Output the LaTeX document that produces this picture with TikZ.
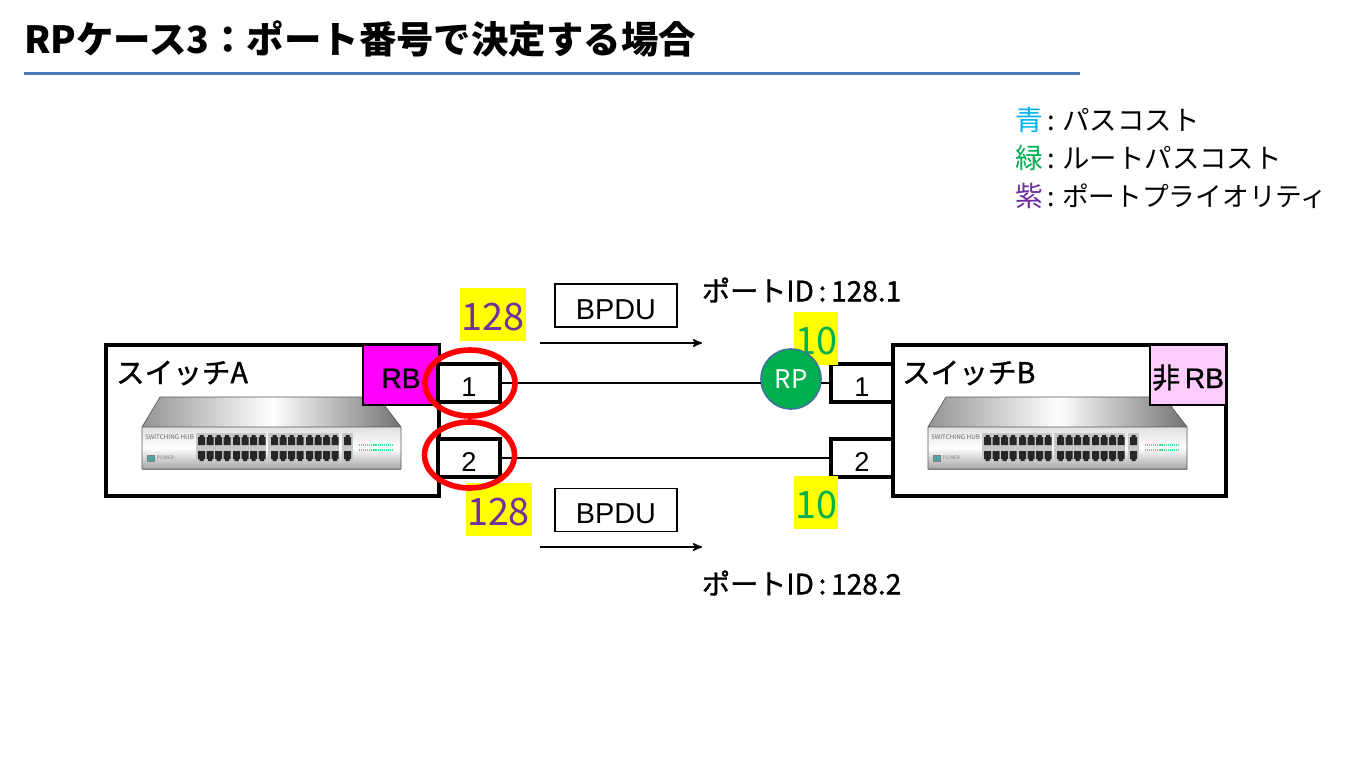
\documentclass[tikz,border=0pt]{standalone}
\usepackage{fontspec}
\setmainfont{Noto Sans CJK JP}
\newfontfamily\medfont[FakeBold=1.2]{Noto Sans CJK JP}
\newfontfamily\arialfont{Liberation Sans}
\newfontfamily\arialmed[FakeBold=1.2]{Liberation Sans}
\usetikzlibrary{arrows}
\usetikzlibrary{positioning}
\usetikzlibrary{shapes.geometric}
\newlength\px
\setlength\px{0.02cm}
\definecolor{rulec}{HTML}{4A7EBB}
\definecolor{costblue}{HTML}{00B0F0}
\definecolor{costgreen}{HTML}{00B050}
\definecolor{prio}{HTML}{7030A0}
\definecolor{rootpink}{HTML}{FF00FF}
\definecolor{nonrb}{HTML}{FFCCFF}
\definecolor{rpedge}{HTML}{41719C}
\definecolor{hiyellow}{HTML}{FFFF00}
\definecolor{ringred}{HTML}{FF0000}
\definecolor{ledgreen}{HTML}{40E090}
\tikzset{
  switchbox/.style={draw, line width=1.75pt, minimum width=333\px, minimum height=151\px},
  portbox/.style={draw, fill=white, line width=1.75pt, minimum width=62\px, text height=32\px, text depth=6\px, font=\arialfont\fontsize{15.5}{15.5}\selectfont},
  rootbox/.style={draw, line width=1.2pt, minimum width=76\px, text height=43\px, text depth=17\px, font=\arialmed\fontsize{16}{16}\selectfont},
  msgbox/.style={draw, line width=0.6pt, minimum width=122\px, text height=35\px, text depth=8\px, font=\arialfont\fontsize{16.4}{16.4}\selectfont},
  hilite/.style={fill=hiyellow, text height=42\px, text depth=11\px, font=\fontsize{21.5}{21.5}\selectfont},
  swname/.style={anchor=west, font=\medfont\fontsize{16.3}{16.3}\selectfont},
  portid/.style={anchor=west, font=\medfont\fontsize{16}{16}\selectfont},
  legend/.style={anchor=west, font=\fontsize{15.6}{15.6}\selectfont},
  redring/.style={draw=ringred, line width=3.2pt, ellipse, minimum width=90\px, minimum height=66\px},
  pics/hub/.style={code={
    % top and front of the chassis
    \shade[left color=black!42, right color=black!55, middle color=white]
      (18,-30) -- (236,-30) -- (259,0) -- (0,0) -- cycle;
    \shade[top color=black!12, bottom color=black!35, middle color=white]
      (0,0) rectangle (259,42);
    \draw[black!65, line width=0.4pt] (18,-30) -- (236,-30) -- (259,0) -- (259,42) -- (0,42) -- (0,0) -- cycle (0,0) -- (259,0);
    % port panels
    \foreach \panelx/\panelw in {54/70, 126/71, 200/11}
      \fill[black!22] (\panelx,6) rectangle ++(\panelw,29);
    \foreach \sockx in {56,64.5,73,81.5, 91,99.5,108,116.5, 129,137.5,146,154.5, 164,172.5,181,189.5, 202} {
      \fill[black!85] (\sockx+1.5,8) -- ++(4,0) -- ++(0,2) -- ++(1.5,0) -- ++(0,8) -- ++(-7,0) -- ++(0,-8) -- ++(1.5,0) -- cycle;
      \fill[black!85] (\sockx+1.5,34) -- ++(4,0) -- ++(0,-2) -- ++(1.5,0) -- ++(0,-8) -- ++(-7,0) -- ++(0,8) -- ++(1.5,0) -- cycle;
    }
    % link lights
    \foreach \sy in {18, 23}
      \draw[ledgreen, line width=1.2pt, dash pattern=on 0.6pt off 0.5pt] (217,\sy) -- (250,\sy);
    \node[black!60, font=\fontsize{3.6}{3.6}\selectfont, anchor=west, inner sep=0pt] at (3,10) {SWITCHING HUB};
    \node[black!50, font=\fontsize{2.8}{2.8}\selectfont, anchor=west, inner sep=0pt] at (15,31) {POWER};
    \fill[teal!70!white, draw=black!50, line width=0.2pt] (5,28) rectangle ++(7,6);
  }}
}
\begin{document}
\begin{tikzpicture}[x=\px, y=-\px, >=stealth', inner sep=0pt, outer sep=0pt]
  \useasboundingbox (0,0) rectangle (1361,779);
  \fill[white] (0,0) rectangle (1361,779);
  % heading
  \node[anchor=west, font=\bfseries\fontsize{21.3}{21.3}\selectfont] (heading) at (24,39) {RPケース3：ポート番号で決定する場合};
  \coordinate (rulestart) at (24,73);
  \coordinate (ruleend) at (1080,73);
  \draw[rulec, line width=1.7pt] (rulestart) -- (ruleend);
  % legend
  \node[legend] (legblue) at (1015,120) {\textcolor{costblue}{\fontsize{15.8}{15.8}\selectfont 青}\,:\,\hspace{3\px}パスコスト};
  \node[legend] (leggreen) at (1015,158) {\textcolor{costgreen}{\fontsize{15.8}{15.8}\selectfont 緑}\,:\,\hspace{3\px}ルートパスコスト};
  \node[legend, font=\fontsize{15.2}{15.2}\selectfont] (legpurple) at (1015,196) {\textcolor{prio}{\fontsize{15.8}{15.8}\selectfont 紫}\,:\,\hspace{3\px}ポートプライオリティ};
  % switches
  \node[switchbox] (swa) at (272.5,420.5) {};
  \node[switchbox, right=454\px of swa] (swb) {};
  \node[swname] (swaname) at (116,373) {スイッチA};
  \node[swname] (swbname) at (902,373) {スイッチB};
  \pic at (142,427) {hub};
  \pic at (928,427) {hub};
  \node[rootbox, fill=rootpink, anchor=north east] (rba) at (swa.north east) {RB};
  \node[rootbox, fill=nonrb, anchor=north east] (rbb) at (swb.north east) {\medfont 非\,\arialmed RB};
  % ports
  \node[portbox, anchor=west] (porta1) at (438,383) {1};
  \node[portbox, below=37\px of porta1] (porta2) {2};
  \node[portbox, anchor=east] (portb1) at (893,383) {1};
  \node[portbox, below=37\px of portb1] (portb2) {2};
  % costs
  \node[hilite, text=prio, minimum width=66\px] (prioa1) at (493,314.5) {128};
  \node[hilite, text=prio, minimum width=66\px] (prioa2) at (498.5,509.5) {128};
  \node[hilite, text=costgreen, minimum width=44\px] (costb1) at (816,338.5) {10};
  \node[hilite, text=costgreen, minimum width=44\px] (costb2) at (816,502.5) {10};
  % root port and links
  \node[circle, fill=costgreen, draw=rpedge, line width=0.9pt, minimum size=60\px, text=white, font=\fontsize{14.6}{14.6}\selectfont] (rp) at (791,379) {RP};
  \draw[line width=0.9pt] (porta1) -- (porta1 -| rp.west);
  \draw[line width=0.9pt] (portb1 -| rp.east) -- (portb1);
  \draw[line width=0.9pt] (porta2) -- (portb2);
  % BPDU frames
  \node[msgbox] (bpdu1) at (616,305.5) {BPDU};
  \node[msgbox] (bpdu2) at (616,510) {BPDU};
  \coordinate (flow1start) at (540,343);
  \coordinate (flow1end) at (702,343);
  \coordinate (flow2start) at (540,547);
  \coordinate (flow2end) at (702,547);
  \draw[->, line width=0.9pt] (flow1start) -- (flow1end);
  \draw[->, line width=0.9pt] (flow2start) -- (flow2end);
  \node[portid] (id1) at (702,290) {ポートID\,:\,128.1};
  \node[portid] (id2) at (702,583) {ポートID\,:\,128.2};
  % chosen ports
  \node[redring] (ring1) at (470,383) {};
  \node[redring] (ring2) at (469.5,455) {};
\end{tikzpicture}
\end{document}
